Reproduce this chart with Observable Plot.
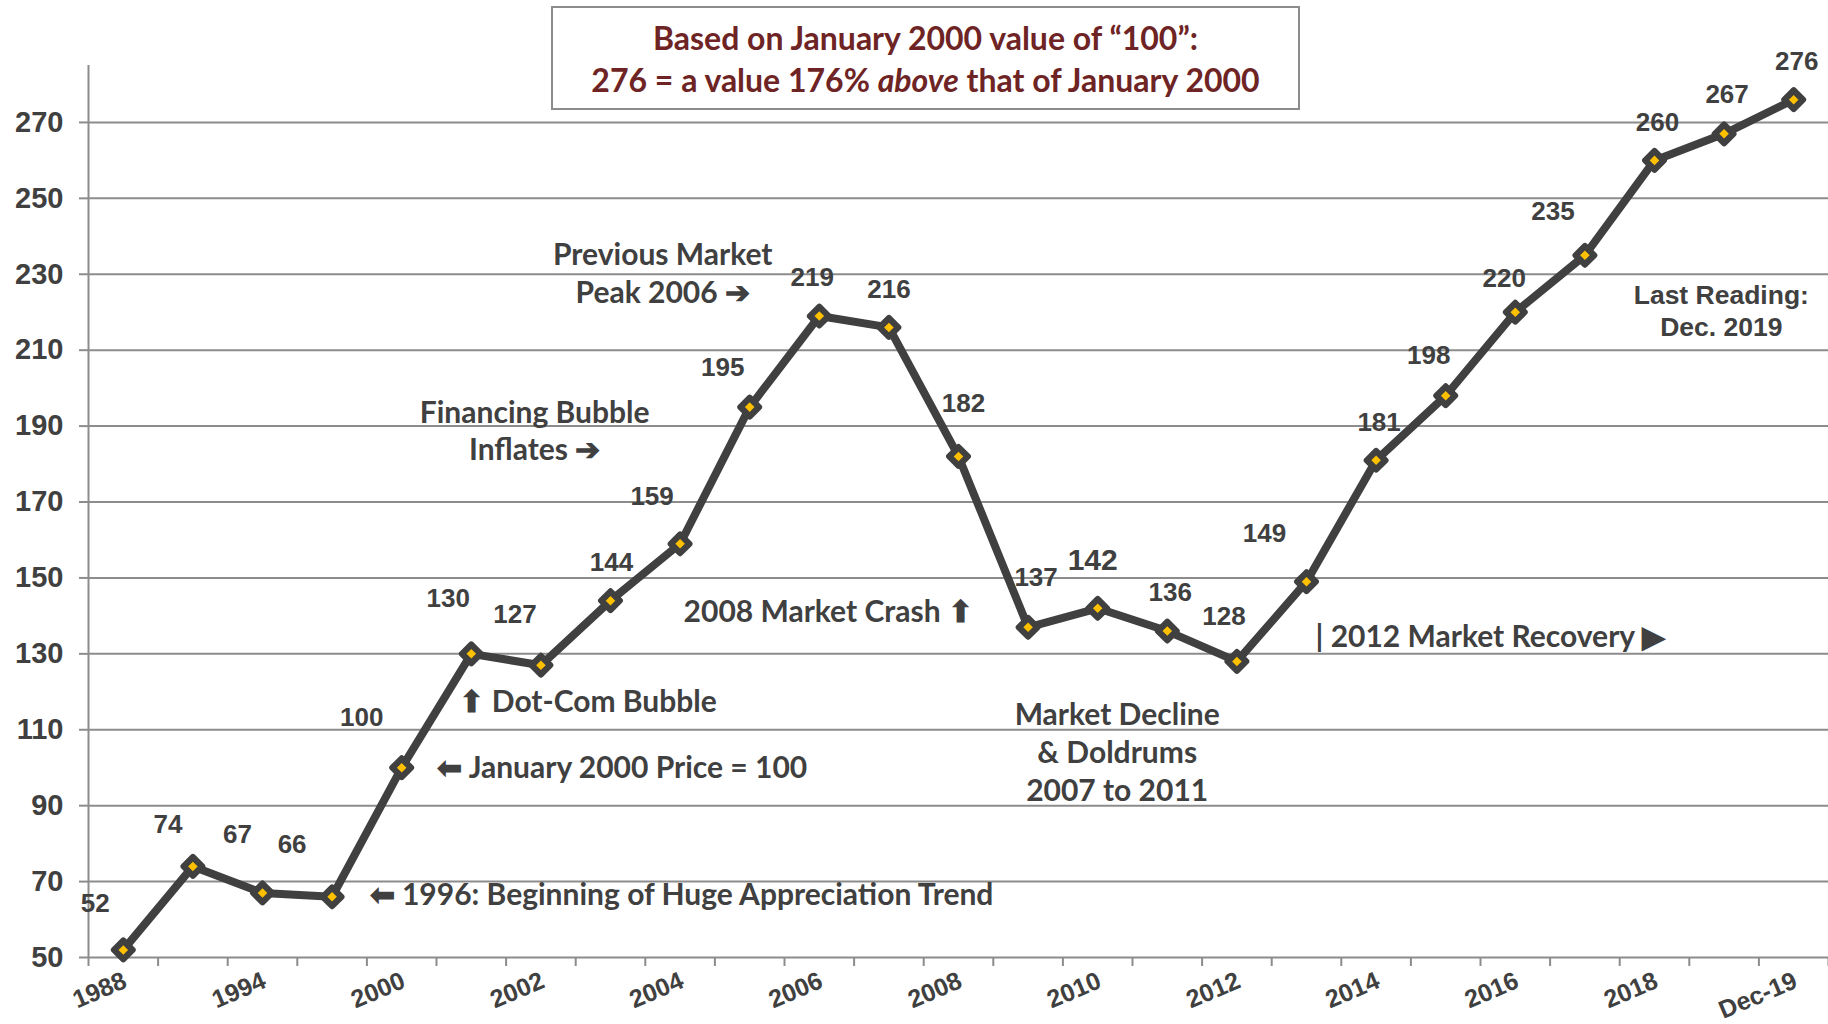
<!DOCTYPE html>
<html>
<head>
<meta charset="utf-8">
<script src="https://cdn.jsdelivr.net/npm/d3@7"></script>
<script src="https://cdn.jsdelivr.net/npm/@observablehq/plot@0.6"></script>
<style>
  html, body { margin: 0; padding: 0; background: #fff; }
  #wrap { position: relative; width: 1828px; height: 1024px; overflow: hidden; }
  #titlebox {
    position: absolute; left: 551px; top: 6px; width: 749px; height: 104px;
    border: 2px solid #8c8c8c; background: #fff; box-sizing: border-box;
    font-family: Lato, "Open Sans", sans-serif; font-weight: bold; font-size: 32px;
    color: #6e2424; text-align: center; line-height: 42px; padding-top: 9px;
  }
</style>
</head>
<body>
<div id="wrap">
  <div id="chart"></div>
  <div id="titlebox">Based on January 2000 value of “100”:<br>276 = a value 176% <i>above</i> that of January 2000</div>
</div>
<script>
// ---- data ----
const tickLabels = ["1988","","1994","","2000","","2002","","2004","","2006","","2008","","2010","","2012","","2014","","2016","","2018","","Dec-19"];
const values = [52,74,67,66,100,130,127,144,159,195,219,216,182,137,142,136,128,149,181,198,220,235,260,267,276];
const yTicks = [50,70,90,110,130,150,170,190,210,230,250,270];

// label nudges (px) for each value label
const labelDx = [-28,-25,-25,-40,-40,-23,-26,1,-28,-27,-7,0,5,8,-5,3,-13,-42,3,-17,-11,-32,3,3,3];
const labelDy = [-46,-42,-58,-52,-50,-55,-51,-38,-47,-39,-38,-38,-53,-50,-48,-38,-45,-48,-38,-40,-34,-44,-38,-39,-38];

const idx = d3.range(values.length);
const ink = "#404040";
const grid = "#8c8c8c";
const arial = "Liberation Sans, Arial, sans-serif";
const calib = "Lato, 'Open Sans', sans-serif";

const notes = [
  {x: 7.75, y: 230.6, text: "Previous Market\nPeak 2006 ➔", anchor: "middle"},
  {x: 5.91, y: 189.1, text: "Financing Bubble\nInflates ➔", anchor: "middle"},
  {x: 4.83, y: 117.2, text: "⬆ Dot-Com Bubble", anchor: "start"},
  {x: 4.51, y: 99.8, text: "⬅ January 2000 Price = 100", anchor: "start"},
  {x: 8.05, y: 140.9, text: "2008 Market Crash ⬆", anchor: "start"},
  {x: 3.54, y: 66.3, text: "⬅ 1996: Beginning of Huge Appreciation Trend", anchor: "start"},
  {x: 14.28, y: 104.5, text: "Market Decline\n& Doldrums\n2007 to 2011", anchor: "middle"},
  {x: 17.13, y: 134.3, text: "| 2012 Market Recovery ▶", anchor: "start"}
];

const labelMarks = idx.map(i => Plot.text([i], {
  x: d => d, y: d => values[d], text: d => String(values[d]),
  dx: labelDx[i], dy: labelDy[i],
  fontSize: i === 14 ? 30 : 26, fontWeight: "bold", fontFamily: arial, fill: ink,
  lineAnchor: "middle", textAnchor: "middle"
}));

const chart = Plot.plot({
  width: 1828, height: 1024,
  marginLeft: 88, marginRight: 0, marginTop: 65, marginBottom: 67,
  x: {type: "linear", domain: [-0.5, 24.5], axis: null},
  y: {domain: [50, 285], axis: null},
  style: {background: "transparent", overflow: "visible"},
  marks: [
    Plot.ruleY(yTicks, {stroke: grid, strokeWidth: 2}),
    Plot.axisY({ticks: yTicks, tickSize: 9, tickPadding: 16, stroke: grid, fill: ink, strokeWidth: 2,
      fontSize: 29, fontWeight: "bold", fontFamily: arial, label: null}),
    Plot.ruleX([-0.5], {y1: 50, y2: 285, stroke: grid, strokeWidth: 2}),
    Plot.axisX({ticks: d3.range(-0.5, 25, 1), tickSize: 9, stroke: grid, strokeWidth: 2, tickFormat: () => "", label: null}),
    Plot.text(idx.filter(i => tickLabels[i] !== ""), {
      x: d => d, y: 50, text: d => tickLabels[d], rotate: -23, textAnchor: "end", lineAnchor: "middle",
      dy: 22, dx: 2, fontSize: 25, fontWeight: "bold", fontFamily: arial, fill: ink
    }),
    Plot.line(idx, {x: d => d, y: d => values[d], stroke: ink, strokeWidth: 8, strokeLinejoin: "round"}),
    Plot.dot(idx, {x: d => d, y: d => values[d], symbol: "diamond2", r: 8.5, fill: ink, stroke: ink, strokeWidth: 6, strokeLinejoin: "round"}),
    Plot.dot(idx, {x: d => d, y: d => values[d], symbol: "diamond2", r: 4.3, fill: "#ffc000", stroke: "none"}),
    ...labelMarks,
    Plot.text(notes.filter(n => n.anchor === "middle"), {x: "x", y: "y", text: "text", textAnchor: "middle", lineAnchor: "middle",
      lineHeight: 1.26, fontSize: 30, fontWeight: "bold", fontFamily: calib, fill: ink}),
    Plot.text(notes.filter(n => n.anchor === "start"), {x: "x", y: "y", text: "text", textAnchor: "start", lineAnchor: "middle",
      fontSize: 30, fontWeight: "bold", fontFamily: calib, fill: ink}),
    Plot.text(["Last Reading:\nDec. 2019"], {x: 22.96, y: 220.7, text: d => d, textAnchor: "middle", lineAnchor: "middle",
      lineHeight: 1.22, fontSize: 26.5, fontWeight: "bold", fontFamily: arial, fill: ink})
  ]
});
document.getElementById("chart").appendChild(chart);
</script>
</body>
</html>
